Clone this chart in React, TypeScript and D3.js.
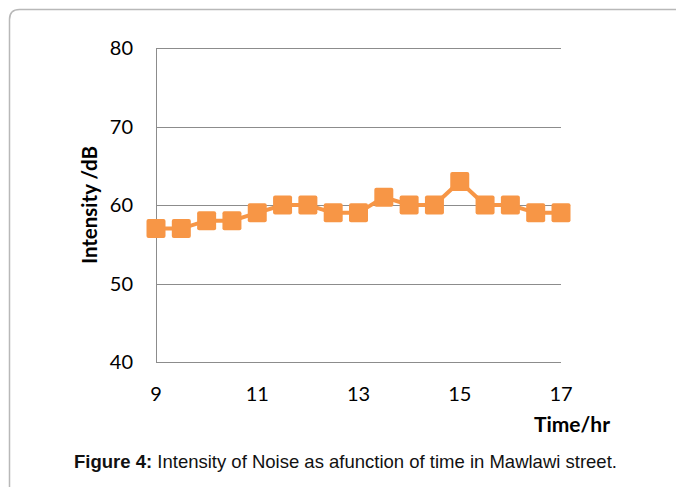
import React, { useEffect, useRef } from "react";
import * as d3 from "d3";

// data
const hours = [9, 9.5, 10, 10.5, 11, 11.5, 12, 12.5, 13, 13.5, 14, 14.5, 15, 15.5, 16, 16.5, 17];
const intensity = [57, 57, 58, 58, 59, 60, 60, 59, 59, 61, 60, 60, 63, 60, 60, 59, 59];
const xTicks = [9, 11, 13, 15, 17];
const yTicks = [40, 50, 60, 70, 80];

const W = 676;
const H = 487;
const ORANGE = "#F79646";
const TICK_FONT = "Lato, 'Open Sans', sans-serif";

export default function App() {
    const svgRef = useRef<SVGSVGElement>(null);

    useEffect(() => {
        const svg = d3.select(svgRef.current);
        svg.selectAll("*").remove();

        // frame around figure
        svg.append("path")
            .attr("d", "M9.5,487 L9.5,19.5 Q9.5,9.5 19.5,9.5 L676,9.5")
            .attr("fill", "none")
            .attr("stroke", "#b8b8b8")
            .attr("stroke-width", 1.5);

        const x = d3.scaleLinear().domain([9, 17]).range([156, 561]);
        const y = d3.scaleLinear().domain([40, 80]).range([362, 48]);

        // gridlines
        svg.append("g")
            .selectAll("line")
            .data(yTicks)
            .join("line")
            .attr("x1", x(9))
            .attr("x2", x(17))
            .attr("y1", (d) => Math.round(y(d)) + 0.5)
            .attr("y2", (d) => Math.round(y(d)) + 0.5)
            .attr("stroke", "#8c8c8c")
            .attr("stroke-width", 1);

        // left axis line
        svg.append("line")
            .attr("x1", Math.round(x(9)) + 0.5)
            .attr("x2", Math.round(x(9)) + 0.5)
            .attr("y1", y(80))
            .attr("y2", y(40))
            .attr("stroke", "#8c8c8c");

        // y tick labels
        svg.append("g")
            .selectAll("text")
            .data(yTicks)
            .join("text")
            .attr("x", 133)
            .attr("y", (d) => y(d) + 7)
            .attr("text-anchor", "end")
            .attr("font-family", TICK_FONT)
            .attr("font-size", 20)
            .attr("fill", "#000")
            .text((d) => d);

        // x tick labels
        svg.append("g")
            .selectAll("text")
            .data(xTicks)
            .join("text")
            .attr("x", (d) => x(d))
            .attr("y", 401)
            .attr("text-anchor", "middle")
            .attr("font-family", TICK_FONT)
            .attr("font-size", 20)
            .attr("fill", "#000")
            .text((d) => d);

        // axis titles
        svg.append("text")
            .attr("transform", "translate(97,205) rotate(-90)")
            .attr("text-anchor", "middle")
            .attr("font-family", TICK_FONT)
            .attr("font-weight", "bold")
            .attr("font-size", 20.5)
            .text("Intensity /dB");

        svg.append("text")
            .attr("x", 572)
            .attr("y", 432)
            .attr("text-anchor", "middle")
            .attr("font-family", TICK_FONT)
            .attr("font-weight", "bold")
            .attr("font-size", 21)
            .text("Time/hr");

        // line + markers
        const pts = hours.map((h, i) => [h, intensity[i]] as [number, number]);
        const lineGen = d3.line<[number, number]>()
            .x((d) => x(d[0]))
            .y((d) => y(d[1]));

        svg.append("path")
            .datum(pts)
            .attr("d", lineGen)
            .attr("fill", "none")
            .attr("stroke", ORANGE)
            .attr("stroke-width", 4);

        svg.append("g")
            .selectAll("rect")
            .data(pts)
            .join("rect")
            .attr("x", (d) => x(d[0]) - 9.5)
            .attr("y", (d) => y(d[1]) - 9.5)
            .attr("width", 19)
            .attr("height", 19)
            .attr("rx", 2)
            .attr("fill", ORANGE);

        // caption
        const cap = svg.append("text")
            .attr("x", 345.5)
            .attr("y", 468)
            .attr("text-anchor", "middle")
            .attr("font-family", "'Liberation Sans', Arial, sans-serif")
            .attr("font-size", 18.5)
            .attr("fill", "#111");
        cap.append("tspan").attr("font-weight", "bold").text("Figure 4:");
        cap.append("tspan").text(" Intensity of Noise as afunction of time in Mawlawi street.");
    }, []);

    return (
        <svg
            ref={svgRef}
            width={W}
            height={H}
            viewBox={`0 0 ${W} ${H}`}
            style={{ position: "absolute", left: 0, top: 0, background: "#fff" }}
        />
    );
}
